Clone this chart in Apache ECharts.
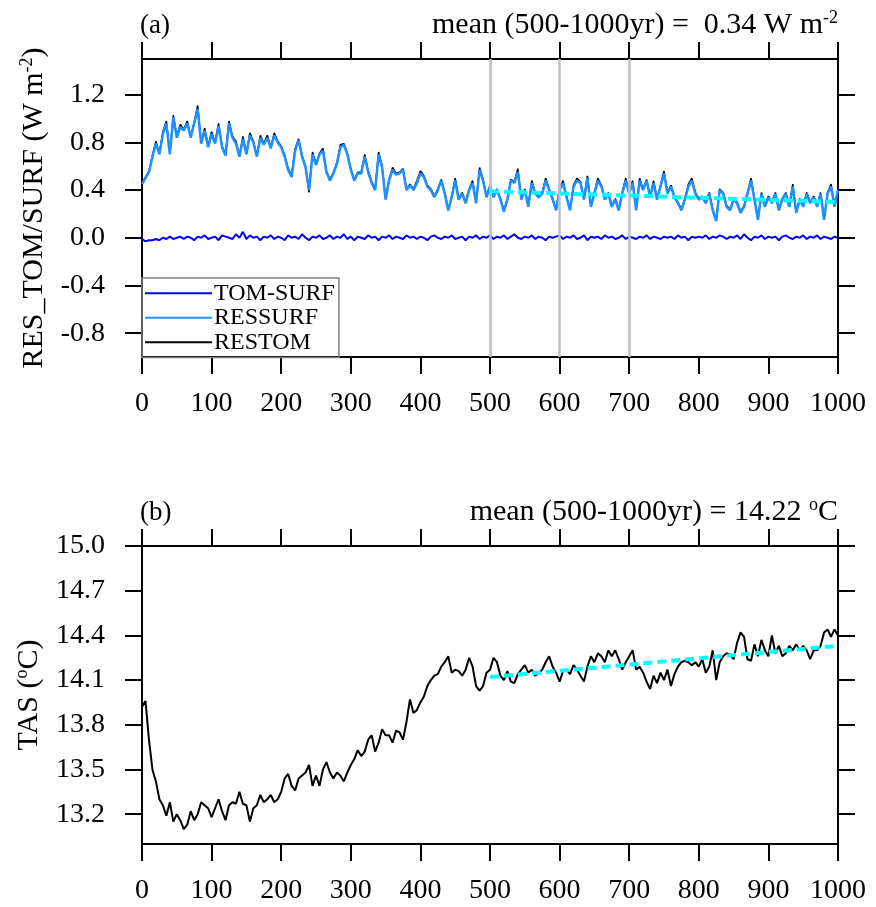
<!DOCTYPE html>
<html>
<head>
<meta charset="utf-8">
<title>RES_TOM/SURF and TAS</title>
<script src="https://cdn.jsdelivr.net/npm/echarts@6/dist/echarts.min.js"></script>
<style>
html,body{margin:0;padding:0;background:#fff;}
#main{width:876px;height:907px;}
</style>
</head>
<body>
<div id="main"></div>
<script>
// 数据：每 5 年取一个点（0,5,...,1000）
var yearStep = 5;

// (a) TOM-SURF
var tomSurf = [
	-0.01,-0.03,-0.02,-0.02,-0.01,-0.02,0.00,-0.01,0.01,-0.01,
	0.00,0.01,-0.01,0.01,0.00,-0.02,0.01,0.00,0.02,-0.01,
	0.00,0.01,-0.02,0.02,0.01,0.00,-0.01,0.03,0.00,0.05,
	-0.01,0.02,0.00,0.01,-0.02,0.01,0.00,0.02,-0.01,0.01,
	0.00,-0.02,0.02,0.00,0.01,-0.01,0.03,0.00,-0.02,0.01,
	0.00,0.02,-0.01,0.00,0.02,-0.01,0.01,0.00,0.03,-0.01,
	0.01,-0.02,0.01,0.00,-0.01,0.02,0.00,0.01,-0.02,0.01,
	0.00,0.02,-0.01,0.01,0.00,-0.01,0.02,0.00,0.01,-0.01,
	0.01,0.00,-0.02,0.01,0.02,0.00,-0.01,0.01,0.00,0.02,
	-0.01,0.00,0.01,-0.02,0.01,0.00,0.02,-0.01,0.01,0.00,
	0.02,
	-0.01,0.01,0.00,0.02,-0.01,0.01,0.03,0.00,-0.01,0.01,
	0.00,0.02,-0.01,0.01,0.00,-0.02,0.01,0.00,0.01,0.02,
	-0.01,0.01,0.00,0.02,-0.01,0.00,0.02,-0.02,0.01,0.00,
	0.01,-0.01,0.02,0.00,0.01,-0.01,0.00,0.02,-0.01,0.01,
	0.00,-0.01,0.01,0.00,0.02,-0.01,0.01,0.00,-0.01,0.01,
	0.00,0.01,-0.01,0.02,0.00,0.01,-0.02,0.01,0.00,0.01,
	0.00,0.02,-0.01,0.01,0.00,0.02,0.01,-0.01,0.01,0.00,
	0.02,-0.01,0.03,0.00,-0.02,0.01,0.00,0.02,-0.01,0.01,
	0.00,0.01,-0.02,0.01,0.02,0.00,-0.01,0.01,0.00,0.02,
	-0.01,0.01,0.00,0.02,-0.01,0.01,0.00,-0.01,0.01,0.00
];

// (a) RESSURF
var resSurf = [
	0.45,0.50,0.55,0.68,0.79,0.70,0.87,0.96,0.70,1.01,
	0.84,0.93,0.90,0.96,0.84,0.96,1.08,0.79,0.90,0.76,
	0.87,0.79,0.94,0.76,0.69,0.96,0.84,0.79,0.68,0.83,
	0.70,0.86,0.80,0.68,0.84,0.78,0.84,0.75,0.86,0.80,
	0.76,0.68,0.57,0.51,0.73,0.82,0.68,0.59,0.40,0.70,
	0.61,0.70,0.73,0.55,0.48,0.54,0.62,0.76,0.78,0.70,
	0.57,0.48,0.54,0.54,0.68,0.55,0.46,0.40,0.70,0.59,
	0.32,0.48,0.57,0.53,0.54,0.57,0.40,0.44,0.40,0.46,
	0.54,0.51,0.43,0.40,0.34,0.40,0.48,0.37,0.23,0.34,
	0.48,0.32,0.37,0.29,0.40,0.46,0.29,0.57,0.48,0.34,
	0.43,
	0.34,0.40,0.32,0.22,0.32,0.48,0.46,0.55,0.32,0.40,
	0.26,0.46,0.37,0.34,0.37,0.48,0.40,0.32,0.23,0.40,
	0.46,0.34,0.23,0.43,0.48,0.46,0.32,0.50,0.26,0.37,
	0.48,0.43,0.32,0.37,0.26,0.32,0.23,0.37,0.48,0.37,
	0.46,0.23,0.48,0.40,0.48,0.34,0.46,0.32,0.43,0.54,
	0.37,0.43,0.34,0.29,0.23,0.32,0.43,0.48,0.37,0.32,
	0.34,0.29,0.37,0.23,0.14,0.40,0.37,0.26,0.23,0.32,
	0.29,0.21,0.26,0.37,0.48,0.32,0.15,0.37,0.26,0.34,
	0.29,0.37,0.23,0.32,0.37,0.26,0.43,0.21,0.32,0.26,
	0.37,0.29,0.34,0.26,0.37,0.15,0.37,0.43,0.26,0.40
];

// (a) RESTOM
var resTom = [
	0.46,0.51,0.56,0.69,0.81,0.71,0.89,0.98,0.71,1.03,
	0.85,0.95,0.91,0.98,0.85,0.97,1.11,0.80,0.92,0.77,
	0.89,0.80,0.96,0.77,0.70,0.98,0.85,0.81,0.69,0.85,
	0.71,0.88,0.81,0.69,0.86,0.79,0.86,0.76,0.88,0.81,
	0.77,0.69,0.58,0.52,0.75,0.83,0.69,0.60,0.38,0.72,
	0.62,0.71,0.75,0.56,0.49,0.55,0.63,0.78,0.79,0.71,
	0.58,0.49,0.55,0.55,0.70,0.56,0.47,0.41,0.72,0.60,
	0.33,0.49,0.59,0.54,0.55,0.58,0.41,0.45,0.41,0.48,
	0.56,0.52,0.44,0.41,0.35,0.41,0.49,0.38,0.24,0.35,
	0.50,0.33,0.38,0.30,0.41,0.48,0.30,0.59,0.49,0.35,
	0.44,
	0.35,0.41,0.33,0.23,0.33,0.49,0.47,0.58,0.33,0.41,
	0.27,0.48,0.38,0.35,0.38,0.50,0.41,0.33,0.24,0.41,
	0.48,0.35,0.24,0.44,0.50,0.47,0.33,0.52,0.27,0.38,
	0.50,0.44,0.33,0.38,0.27,0.33,0.24,0.38,0.50,0.38,
	0.48,0.24,0.50,0.41,0.49,0.35,0.48,0.33,0.44,0.56,
	0.38,0.44,0.35,0.30,0.24,0.33,0.45,0.50,0.38,0.33,
	0.35,0.30,0.38,0.24,0.15,0.41,0.38,0.27,0.24,0.33,
	0.30,0.22,0.27,0.38,0.50,0.33,0.16,0.38,0.27,0.35,
	0.30,0.38,0.24,0.33,0.38,0.27,0.45,0.22,0.33,0.27,
	0.38,0.30,0.35,0.27,0.38,0.16,0.38,0.45,0.27,0.41
];

// (b) TAS
var tas = [
	13.92,13.96,13.70,13.50,13.42,13.30,13.26,13.19,13.28,13.15,
	13.20,13.16,13.10,13.13,13.22,13.16,13.20,13.28,13.26,13.24,
	13.18,13.24,13.30,13.22,13.16,13.26,13.28,13.27,13.35,13.27,
	13.26,13.15,13.24,13.26,13.33,13.28,13.30,13.33,13.28,13.30,
	13.35,13.44,13.47,13.39,13.36,13.44,13.46,13.48,13.53,13.39,
	13.46,13.39,13.50,13.55,13.48,13.44,13.48,13.46,13.42,13.48,
	13.53,13.57,13.63,13.59,13.62,13.70,13.73,13.62,13.68,13.77,
	13.73,13.73,13.68,13.76,13.75,13.70,13.82,13.97,13.88,13.90,
	13.95,13.99,14.06,14.10,14.13,14.14,14.19,14.22,14.26,14.15,
	14.17,14.16,14.13,14.17,14.25,14.19,14.06,14.03,14.06,14.15,
	14.17,
	14.25,14.22,14.13,14.10,14.16,14.09,14.08,14.14,14.17,14.20,
	14.15,14.17,14.13,14.15,14.17,14.22,14.26,14.19,14.15,14.09,
	14.16,14.17,14.14,14.20,14.17,14.13,14.09,14.19,14.26,14.22,
	14.28,14.26,14.22,14.30,14.26,14.30,14.24,14.17,14.22,14.26,
	14.30,14.17,14.19,14.15,14.09,14.04,14.13,14.08,14.15,14.10,
	14.17,14.06,14.14,14.19,14.22,14.23,14.22,14.20,14.22,14.19,
	14.24,14.15,14.19,14.30,14.10,14.22,14.26,14.28,14.27,14.24,
	14.35,14.42,14.39,14.24,14.23,14.34,14.26,14.37,14.30,14.26,
	14.40,14.28,14.33,14.26,14.28,14.33,14.30,14.34,14.30,14.33,
	14.30,14.24,14.30,14.30,14.33,14.42,14.44,14.39,14.44,14.40
];

// 趋势线（500-1000年）
var trendYears = [500, 1000];
var trendRes = [0.39, 0.30];
var trendTas = [14.12, 14.33];
// 灰色竖线
var markYears = [500, 600, 700];
// 刻度
var resTicks = [-0.8, -0.4, 0.0, 0.4, 0.8, 1.2];
var tasTicks = [13.2, 13.5, 13.8, 14.1, 14.4, 14.7, 15.0];

var FONT = 'Liberation Serif';

function toPairs(xs, vals) {
	var out = [];
	for (var i = 0; i < vals.length; i++) {
		out.push([xs ? xs[i] : i * yearStep, vals[i]]);
	}
	return out;
}

function xAxisOf(grid, pos) {
	return {
		gridIndex: grid, type: 'value', min: 0, max: 1000, interval: 100, position: pos,
		axisLine: {onZero: false, lineStyle: {color: '#000', width: 2}},
		axisTick: {inside: false, length: 17, lineStyle: {color: '#000', width: 2}},
		axisLabel: {show: pos == 'bottom', margin: 33, fontFamily: FONT, fontSize: 28, color: '#000',
			formatter: function (v) { return String(v); }},
		splitLine: {show: false}
	};
}

function yAxisOf(grid, pos, min, max, ticks, name) {
	var ax = {
		gridIndex: grid, type: 'value', min: min, max: max, position: pos,
		axisLine: {onZero: false, lineStyle: {color: '#000', width: 2}},
		axisTick: {inside: false, length: 17, customValues: ticks, lineStyle: {color: '#000', width: 2}},
		axisLabel: {show: pos == 'left', customValues: ticks, margin: 37, fontFamily: FONT, fontSize: 28, color: '#000',
			formatter: function (v) { return v.toFixed(1); }},
		splitLine: {show: false}
	};
	if (name) {
		ax.name = name;
		ax.nameLocation = 'middle';
		ax.nameRotate = 90;
		ax.nameGap = 86;
		ax.nameTextStyle = {fontFamily: FONT, fontSize: 30, lineHeight: 32, color: '#000',
			rich: {s: {fontFamily: FONT, fontSize: 18, lineHeight: 18, verticalAlign: 'top', color: '#000'}}};
	}
	return ax;
}

var titleRich = {s: {fontFamily: FONT, fontSize: 18, lineHeight: 18, verticalAlign: 'top', color: '#000'}};
function titleOf(text, pos, top) {
	var t = {text: text, top: top, padding: 0,
		textStyle: {fontFamily: FONT, fontSize: 30, lineHeight: 32, fontWeight: 'normal', color: '#000', rich: titleRich}};
	if (pos == 'left') { t.left = 140; t.textStyle.fontSize = 27; } else { t.right = 38; }
	return t;
}

var chart = echarts.init(document.getElementById('main'), null, {renderer: 'canvas'});
var option = {
	animation: false,
	backgroundColor: '#fff',
	title: [
		titleOf('(a)', 'left', 10),
		titleOf('mean (500-1000yr) =  0.34 W m{s|-2}', 'right', 9),
		titleOf('(b)', 'left', 497),
		titleOf('mean (500-1000yr) = 14.22 {s|o}C', 'right', 496)
	],
	grid: [
		{left: 142, right: 38, top: 59, height: 298},
		{left: 142, right: 38, top: 546, height: 298}
	],
	legend: {
		data: ['TOM-SURF', 'RESSURF', 'RESTOM'],
		orient: 'vertical', left: 142, top: 278,
		icon: 'rect',
		padding: [3, 4, 3, 3], itemGap: 0, itemWidth: 67, itemHeight: 2,
		borderColor: '#808080', borderWidth: 1.5,
		selectedMode: false,
		textStyle: {fontFamily: FONT, fontSize: 24, lineHeight: 24.5, color: '#000', padding: [0, 0, 0, -3]}
	},
	xAxis: [xAxisOf(0, 'bottom'), xAxisOf(0, 'top'), xAxisOf(1, 'bottom'), xAxisOf(1, 'top')],
	yAxis: [
		yAxisOf(0, 'left', -1.0, 1.5, resTicks, 'RES_TOM/SURF (W m{s|-2})'),
		yAxisOf(0, 'right', -1.0, 1.5, resTicks),
		yAxisOf(1, 'left', 13.0, 15.0, tasTicks, 'TAS ({s|o}C)'),
		yAxisOf(1, 'right', 13.0, 15.0, tasTicks)
	],
	series: [
		{
			name: 'RESTOM', type: 'line', xAxisIndex: 0, yAxisIndex: 0, z: 2,
			data: toPairs(null, resTom), symbol: 'none',
			lineStyle: {color: '#000', width: 1.5}, itemStyle: {color: '#000'},
			markLine: {
				silent: true, symbol: ['none', 'none'], label: {show: false},
				lineStyle: {color: '#c0c0c0', width: 2.5, type: 'solid'},
				data: markYears.map(function (y) { return {xAxis: y}; })
			}
		},
		{
			name: 'RESSURF', type: 'line', xAxisIndex: 0, yAxisIndex: 0, z: 3,
			data: toPairs(null, resSurf), symbol: 'none',
			lineStyle: {color: '#1e90ff', width: 2.5}, itemStyle: {color: '#1e90ff'}
		},
		{
			name: 'TOM-SURF', type: 'line', xAxisIndex: 0, yAxisIndex: 0, z: 3,
			data: toPairs(null, tomSurf), symbol: 'none',
			lineStyle: {color: '#0000ff', width: 2}, itemStyle: {color: '#0000ff'}
		},
		{
			name: 'trendA', type: 'line', xAxisIndex: 0, yAxisIndex: 0, z: 5,
			data: toPairs(trendYears, trendRes), symbol: 'none',
			lineStyle: {color: '#00ffff', width: 4, type: [9, 5]}
		},
		{
			name: 'TAS', type: 'line', xAxisIndex: 2, yAxisIndex: 2, z: 3,
			data: toPairs(null, tas), symbol: 'none',
			lineStyle: {color: '#000', width: 2}
		},
		{
			name: 'trendB', type: 'line', xAxisIndex: 2, yAxisIndex: 2, z: 5,
			data: toPairs(trendYears, trendTas), symbol: 'none',
			lineStyle: {color: '#00ffff', width: 4, type: [9, 5]}
		}
	]
};
chart.setOption(option);
</script>
</body>
</html>
